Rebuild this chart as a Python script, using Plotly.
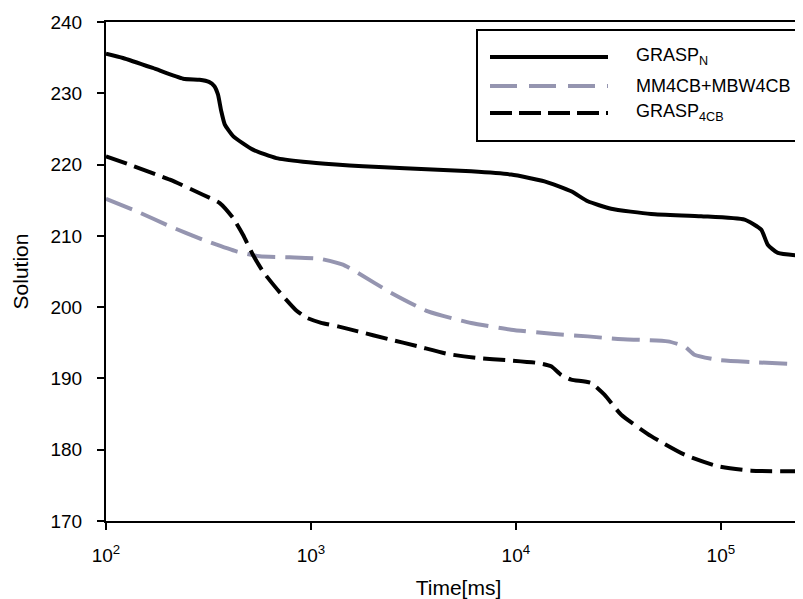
import plotly.graph_objects as go

# ---- data ----
grasp_n_x = [100, 121, 169, 238, 286, 318, 338, 352, 365, 380, 417, 521, 678, 914, 1324,
             1795, 2864, 6053, 9484, 13800, 18620, 22440, 29170, 45710, 80170, 130600,
             157400, 169400, 189700, 275400]
grasp_n_y = [235.55, 234.95, 233.55, 232.05, 231.9, 231.6, 231.0, 229.8, 227.5, 225.6,
             224.0, 222.1, 220.9, 220.4, 220.0, 219.75, 219.5, 219.05, 218.6, 217.65,
             216.25, 214.85, 213.8, 213.07, 212.75, 212.27, 210.87, 208.76, 207.6, 207.13]

mm_x = [100, 141, 205, 297, 433, 562, 787, 1102, 1432, 1694, 2466, 3724, 6053, 9484,
        15420, 22440, 31480, 55080, 66530, 74300, 96600, 140600, 275400]
mm_y = [215.2, 213.45, 211.34, 209.47, 207.83, 207.13, 207.0, 206.8, 205.96, 204.8,
        202.0, 199.4, 197.78, 196.84, 196.24, 195.9, 195.53, 195.2, 194.5, 193.33,
        192.6, 192.3, 191.9]

grasp4_x = [100, 130, 205, 297, 359, 417, 466, 521, 583, 708, 851, 955, 1122, 1355,
            1694, 2377, 3327, 4656, 6531, 9141, 12790, 14860, 16630, 18620, 23280,
            27040, 32660, 45710, 66530, 96600, 140600, 275400]
grasp4_y = [221.16, 220.0, 217.88, 215.77, 214.6, 212.5, 210.16, 207.36, 205.0, 202.0,
            199.5, 198.5, 197.8, 197.3, 196.6, 195.53, 194.5, 193.43, 192.87, 192.55,
            192.17, 191.7, 190.5, 189.83, 189.36, 187.72, 184.9, 181.9, 179.3, 177.68,
            177.06, 176.97]

series_names = ["GRASP<sub>N</sub>", "MM4CB+MBW4CB", "GRASP<sub>4CB</sub>"]
x_tick_vals = [100, 1000, 10000, 100000]
x_tick_text = ["10<sup>2</sup>", "10<sup>3</sup>", "10<sup>4</sup>", "10<sup>5</sup>"]
y_tick_vals = [170, 180, 190, 200, 210, 220, 230, 240]

BLACK = "#000000"
GREY = "#9595b0"
FONT = "Liberation Sans, Arial, sans-serif"

fig = go.Figure()
fig.add_trace(go.Scatter(x=grasp_n_x, y=grasp_n_y, mode="lines", name=series_names[0],
                         line=dict(color=BLACK, width=4, shape="spline", smoothing=0.5)))
fig.add_trace(go.Scatter(x=mm_x, y=mm_y, mode="lines", name=series_names[1],
                         line=dict(color=GREY, width=4, dash="28px,10px", shape="spline", smoothing=0.5)))
fig.add_trace(go.Scatter(x=grasp4_x, y=grasp4_y, mode="lines", name=series_names[2],
                         line=dict(color=BLACK, width=4, dash="22px,8px", shape="spline", smoothing=0.5)))

# manual legend (box, samples, labels) in paper coordinates
L, R, T, B = 98, 803, 14, 513
def px(xp):
    return (xp - L) / (R - L)
def py(yp):
    return (B - yp) / (B - T)

shapes = [dict(type="rect", xref="paper", yref="paper", x0=px(469), x1=1.02,
               y0=py(133), y1=py(22), line=dict(color="black", width=2),
               fillcolor="white", layer="above")]
samples = [(49, BLACK, "solid"), (78, GREY, "27px,12px"), (105, BLACK, "22px,7px")]
annotations = []
for (yy, col, dsh), name in zip(samples, series_names):
    shapes.append(dict(type="line", xref="paper", yref="paper", x0=px(482), x1=px(600),
                       y0=py(yy), y1=py(yy), line=dict(color=col, width=4, dash=dsh),
                       layer="above"))
    annotations.append(dict(xref="paper", yref="paper", x=px(626), y=py(yy),
                            xanchor="left", yanchor="middle", text=name, showarrow=False,
                            font=dict(family=FONT, size=18, color="black")))

fig.update_layout(
    width=803, height=599,
    margin=dict(l=L, r=0, t=T, b=599 - B),
    paper_bgcolor="white", plot_bgcolor="white",
    showlegend=False,
    font=dict(family=FONT, size=18, color="black"),
    shapes=shapes, annotations=annotations,
)
fig.update_xaxes(type="log", range=[2, 5.44], tickvals=x_tick_vals, ticktext=x_tick_text,
                 ticks="outside", ticklen=7, tickwidth=2, tickcolor="black",
                 showline=True, linecolor="black", linewidth=2, mirror=True,
                 showgrid=False, zeroline=False, ticklabelstandoff=9,
                 tickfont=dict(size=19),
                 title=dict(text="Time[ms]", font=dict(size=21), standoff=16))
fig.update_yaxes(range=[170, 240], tickvals=y_tick_vals,
                 ticks="outside", ticklen=7, tickwidth=2, tickcolor="black",
                 showline=True, linecolor="black", linewidth=2,
                 showgrid=False, zeroline=False, ticklabelstandoff=11,
                 tickfont=dict(size=19),
                 title=dict(text="Solution", font=dict(size=21), standoff=16))

fig.write_html("out.html")
